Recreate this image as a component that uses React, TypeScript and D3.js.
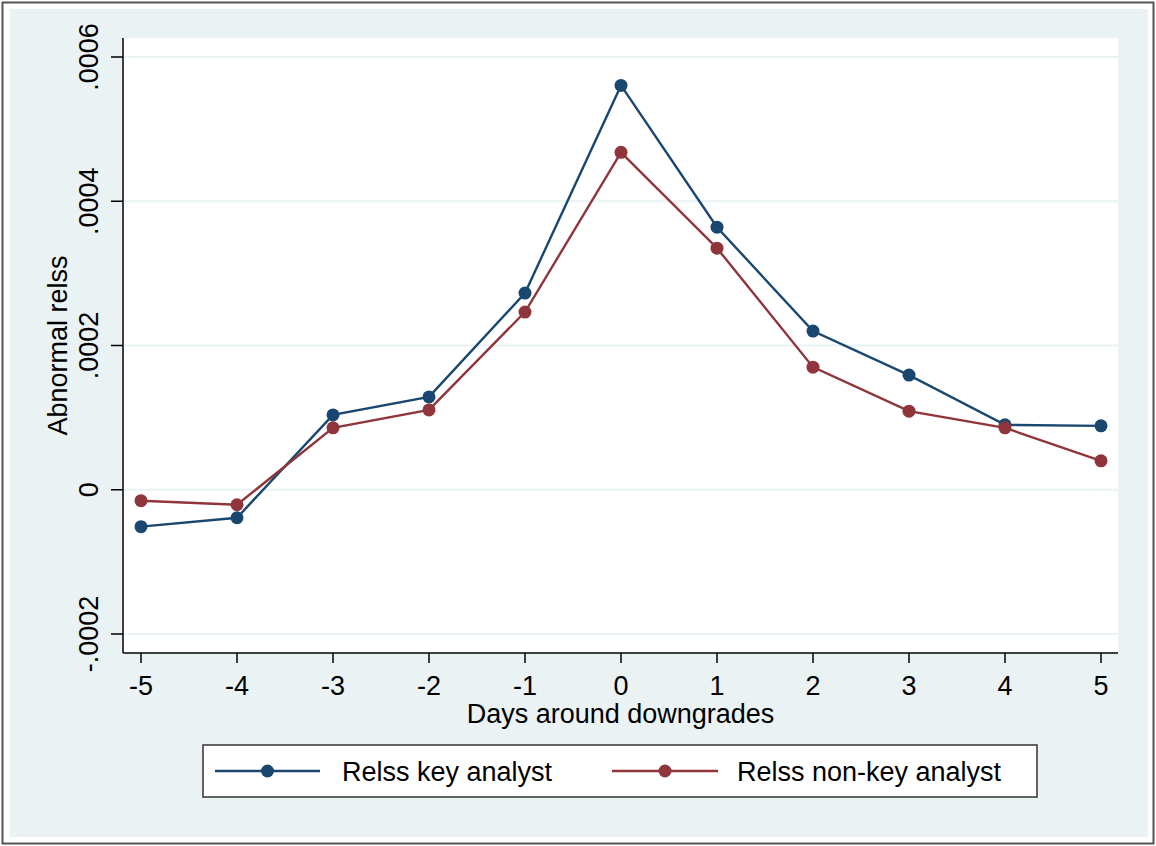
import React, { useEffect, useRef } from 'react';
import * as d3 from 'd3';

const days = [-5, -4, -3, -2, -1, 0, 1, 2, 3, 4, 5];
const keyAnalyst = [-0.0000512, -0.0000388, 0.0001038, 0.0001287, 0.0002727, 0.0005606, 0.000364, 0.00022, 0.000159, 0.00009, 0.0000886];
const nonKeyAnalyst = [-0.0000152, -0.0000208, 0.0000858, 0.0001107, 0.0002464, 0.0004678, 0.000335, 0.00017, 0.000109, 0.0000858, 0.0000401];
const yTicks = [-0.0002, 0, 0.0002, 0.0004, 0.0006];
const yTickLabels = ['-.0002', '0', '.0002', '.0004', '.0006'];
const seriesNames = ['Relss key analyst', 'Relss non-key analyst'];
const seriesColors = ['#1a476f', '#90353b'];

const App = () => {
  const svgRef = useRef<SVGSVGElement>(null);

  useEffect(() => {
    document.body.style.margin = '0';
    const W = 1156, H = 846;
    const plot = { left: 123, right: 1118, top: 38, bottom: 653 };
    const font = 'Liberation Sans, Arial, sans-serif';
    const fs = 27;

    const svg = d3.select(svgRef.current);
    svg.selectAll('*').remove();
    svg.attr('width', W).attr('height', H).style('display', 'block');

    // outer frame + graph region
    svg.append('rect').attr('x', 0).attr('y', 0).attr('width', W).attr('height', H).attr('fill', '#ffffff');
    svg.append('rect').attr('x', 2.5).attr('y', 2.5).attr('width', W - 5).attr('height', H - 5)
      .attr('fill', 'none').attr('stroke', '#555').attr('stroke-width', 2);
    svg.append('rect').attr('x', 10).attr('y', 9).attr('width', 1138).attr('height', 828).attr('fill', '#eaf2f3');
    svg.append('rect').attr('x', plot.left).attr('y', plot.top)
      .attr('width', plot.right - plot.left).attr('height', plot.bottom - plot.top).attr('fill', '#ffffff');

    const x = d3.scaleLinear().domain([-5, 5]).range([141, 1101]);
    const y = d3.scaleLinear().domain([-0.0002, 0.0006]).range([634, 57]);

    // gridlines
    svg.append('g').selectAll('line').data(yTicks).join('line')
      .attr('x1', plot.left).attr('x2', plot.right)
      .attr('y1', d => y(d)).attr('y2', d => y(d))
      .attr('stroke', '#eaf2f3').attr('stroke-width', 2);

    // y axis
    const yAxis = svg.append('g');
    yAxis.append('line').attr('x1', plot.left).attr('x2', plot.left).attr('y1', plot.top).attr('y2', plot.bottom)
      .attr('stroke', '#000').attr('stroke-width', 1.5);
    yAxis.selectAll('line.tick').data(yTicks).join('line').attr('class', 'tick')
      .attr('x1', plot.left - 12).attr('x2', plot.left)
      .attr('y1', d => y(d)).attr('y2', d => y(d))
      .attr('stroke', '#000').attr('stroke-width', 1.5);
    yAxis.selectAll('text').data(yTicks).join('text')
      .attr('transform', d => `translate(98,${y(d)}) rotate(-90)`)
      .attr('text-anchor', 'middle')
      .attr('font-family', font).attr('font-size', fs)
      .text((d, i) => yTickLabels[i]);
    svg.append('text')
      .attr('transform', `translate(67,${(plot.top + plot.bottom) / 2}) rotate(-90)`)
      .attr('text-anchor', 'middle')
      .attr('font-family', font).attr('font-size', fs)
      .text('Abnormal relss');

    // x axis
    const xAxis = svg.append('g');
    xAxis.append('line').attr('x1', plot.left).attr('x2', plot.right).attr('y1', plot.bottom).attr('y2', plot.bottom)
      .attr('stroke', '#000').attr('stroke-width', 1.5);
    xAxis.selectAll('line.tick').data(days).join('line').attr('class', 'tick')
      .attr('x1', d => x(d)).attr('x2', d => x(d))
      .attr('y1', plot.bottom).attr('y2', plot.bottom + 10)
      .attr('stroke', '#000').attr('stroke-width', 1.5);
    xAxis.selectAll('text').data(days).join('text')
      .attr('x', d => x(d)).attr('y', 695)
      .attr('text-anchor', 'middle')
      .attr('font-family', font).attr('font-size', fs)
      .text(d => String(d));
    svg.append('text')
      .attr('x', (plot.left + plot.right) / 2).attr('y', 723)
      .attr('text-anchor', 'middle')
      .attr('font-family', font).attr('font-size', fs)
      .text('Days around downgrades');

    // series
    const line = d3.line<number>().x((d, i) => x(days[i])).y(d => y(d));
    [keyAnalyst, nonKeyAnalyst].forEach((vals, s) => {
      const g = svg.append('g');
      g.append('path').datum(vals).attr('d', line)
        .attr('fill', 'none').attr('stroke', seriesColors[s]).attr('stroke-width', 2.4);
      g.selectAll('circle').data(vals).join('circle')
        .attr('cx', (d, i) => x(days[i])).attr('cy', d => y(d)).attr('r', 6.5)
        .attr('fill', seriesColors[s]);
    });

    // legend
    const leg = svg.append('g');
    leg.append('rect').attr('x', 203).attr('y', 745).attr('width', 834).attr('height', 52)
      .attr('fill', '#fff').attr('stroke', '#333').attr('stroke-width', 1.5);
    const items = [{ x0: 215, x1: 320, tx: 342 }, { x0: 612, x1: 718, tx: 737 }];
    items.forEach((it, s) => {
      leg.append('line').attr('x1', it.x0).attr('x2', it.x1).attr('y1', 771).attr('y2', 771)
        .attr('stroke', seriesColors[s]).attr('stroke-width', 2.4);
      leg.append('circle').attr('cx', (it.x0 + it.x1) / 2).attr('cy', 771).attr('r', 6.5).attr('fill', seriesColors[s]);
      leg.append('text').attr('x', it.tx).attr('y', 781)
        .attr('font-family', font).attr('font-size', fs)
        .text(seriesNames[s]);
    });
  }, []);

  return <svg ref={svgRef}></svg>;
};

export default App;
